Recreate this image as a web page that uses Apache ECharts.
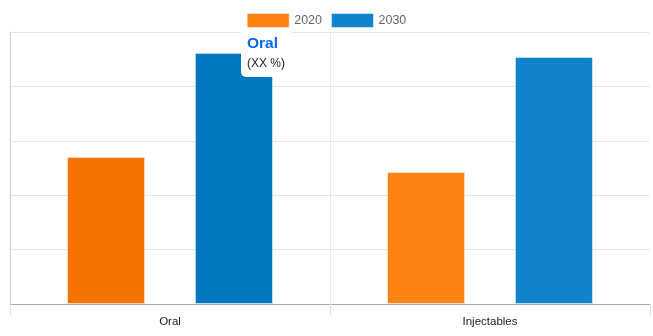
<!DOCTYPE html>
<html>
<head>
<meta charset="utf-8">
<title>Oral vs Injectables</title>
<script src="https://cdn.jsdelivr.net/npm/echarts@6/dist/echarts.min.js"></script>
<style>
  html, body { margin: 0; padding: 0; background: #fff; }
  #chart { width: 653px; height: 336px; }
</style>
</head>
<body>
<div id="chart"></div>
<script>
// Market share by route of administration
const categories = ['Oral', 'Injectables'];
const years = ['2020', '2030'];
const values2020 = [54, 48.5];
const values2030 = [92.3, 90.8];

// Oral column is drawn in its highlighted shade
const orange = ['#F57200', '#FF8214'];
const blue = ['#0077C0', '#1282CC'];

const chart = echarts.init(document.getElementById('chart'));

function items(values, shades) {
  return values.map((v, i) => ({ value: v, itemStyle: { color: shades[i] } }));
}

// ticks at the left edge and between the two groups only
const innerOnly = (i) => i < categories.length;

chart.setOption({
  animation: false,
  textStyle: { fontFamily: 'Liberation Sans, Arial, sans-serif' },
  legend: {
    top: 8,
    left: 'center',
    icon: 'rect',
    itemWidth: 42,
    itemHeight: 14,
    itemGap: 9,
    textStyle: { color: '#666', fontSize: 12.5 },
    itemStyle: { borderColor: 'rgba(255,255,255,0.5)', borderWidth: 1 },
    data: years
  },
  grid: { left: 10, right: 3, top: 32, bottom: 32, containLabel: false },
  tooltip: {
    trigger: 'item',
    alwaysShowContent: true,
    position: [241, 29],
    backgroundColor: '#fff',
    borderWidth: 0,
    padding: [5, 7, 7, 6],
    extraCssText: 'box-shadow:none;border-radius:5px;',
    formatter: function (p) {
      return '<div style="font-family:Liberation Sans,Arial,sans-serif;line-height:1.2">' +
        '<div style="color:#0A6AEE;font-weight:bold;font-size:15.5px">' + p.name + '</div>' +
        '<div style="color:#222;font-size:12px;margin-top:3px">(XX %)</div></div>';
    }
  },
  xAxis: {
    type: 'category',
    data: categories,
    axisLine: { lineStyle: { color: '#aaa' } },
    axisTick: { show: true, length: 11, interval: innerOnly, lineStyle: { color: '#e0e0e0' } },
    splitLine: { show: true, showMaxLine: false, interval: innerOnly, lineStyle: { color: '#e6e6e6' } },
    axisLabel: { color: '#222', fontSize: 11.5, margin: 12 }
  },
  yAxis: {
    type: 'value',
    min: 0,
    max: 100,
    interval: 20,
    axisLabel: { show: false },
    axisTick: { show: false },
    axisLine: { show: true, lineStyle: { color: '#ccc' } },
    splitLine: { lineStyle: { color: '#e6e6e6' } }
  },
  series: [
    {
      name: '2020',
      type: 'bar',
      barWidth: 78,
      barGap: '64%',
      color: '#FF8214',
      itemStyle: { borderColor: 'rgba(255,255,255,0.45)', borderWidth: 1 },
      emphasis: { disabled: true },
      data: items(values2020, orange)
    },
    {
      name: '2030',
      type: 'bar',
      barWidth: 78,
      barGap: '64%',
      color: '#1282CC',
      itemStyle: { borderColor: 'rgba(255,255,255,0.45)', borderWidth: 1 },
      emphasis: { disabled: true },
      data: items(values2030, blue)
    }
  ]
});

chart.dispatchAction({ type: 'showTip', seriesIndex: 1, dataIndex: 0 });
</script>
</body>
</html>
